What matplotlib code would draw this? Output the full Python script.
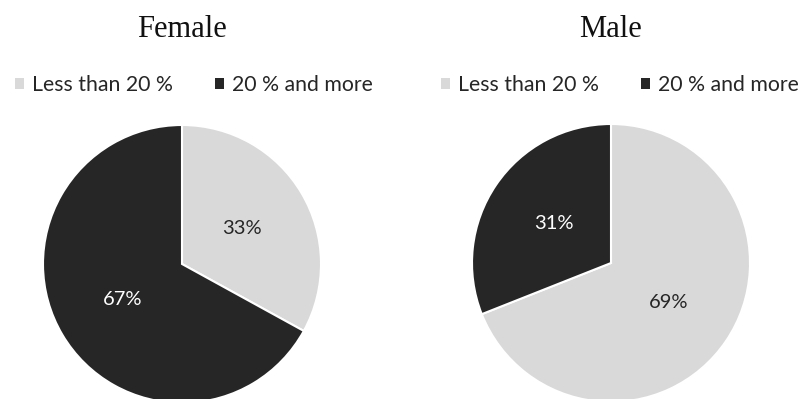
"""
Two pie charts: share of respondents below / above 20 %, by sex.
"""

import matplotlib.pyplot as plt
from matplotlib.patches import Patch

W, H = 806, 399

categories = ["Less than 20 %", "20 % and more"]
female_pct = [33, 67]
male_pct = [69, 31]
panel_titles = ["Female", "Male"]

colors = ["#d9d9d9", "#262626"]
label_colors = ["#262626", "white"]


def draw_pie(cx, cy, r, values, title, legend_cx):
    # axes placed so that the pie (radius 1) maps onto pixel center/radius
    ax = fig.add_axes([(cx - r) / W, 1 - (cy + r) / H, 2 * r / W, 2 * r / H])
    wedges, _, autotexts = ax.pie(
        values, colors=colors, startangle=90, counterclock=False,
        autopct=lambda p: f"{p:.0f}%", pctdistance=0.5,
        wedgeprops=dict(edgecolor="white", linewidth=1.5),
        textprops=dict(family="Lato", fontsize=14.5),
    )
    for t, c in zip(autotexts, label_colors):
        t.set_color(c)
    ax.set_xlim(-1, 1)
    ax.set_ylim(-1, 1)
    ax.set_aspect("equal")
    ax.axis("off")

    fig.text(cx / W, 1 - 37 / H, title, ha="center", va="baseline",
             family="Liberation Serif", fontsize=22, color="#111111")

    handles = [Patch(facecolor=c, edgecolor="none") for c in colors]
    ax.legend(handles, categories, loc="center",
              bbox_to_anchor=(legend_cx / W, 1 - 85 / H),
              bbox_transform=fig.transFigure, ncol=2, frameon=False,
              prop=dict(family="Lato", size=15.3), labelcolor="#262626",
              handlelength=0.42, handleheight=0.42, handletextpad=0.37,
              columnspacing=2.0, borderpad=0, borderaxespad=0)


fig = plt.figure(figsize=(W / 100, H / 100), dpi=100)
draw_pie(182, 264, 139, female_pct, panel_titles[0], 194)
draw_pie(611, 263, 139, male_pct, panel_titles[1], 620)
fig.savefig("out.png", dpi=100)
